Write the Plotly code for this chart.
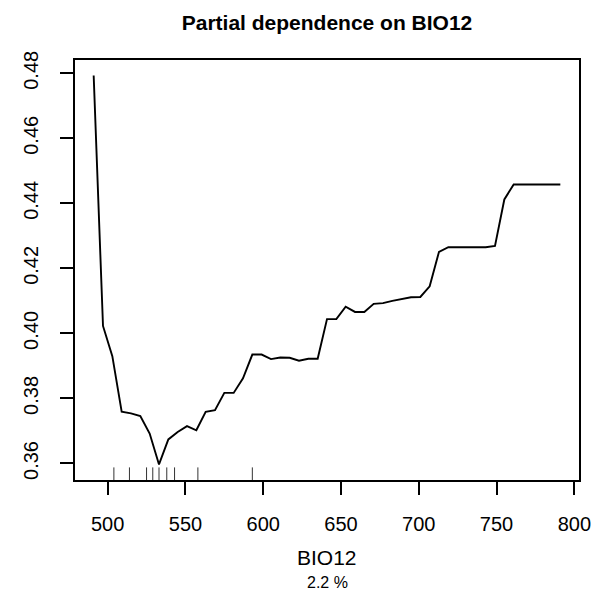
"""Partial dependence plot for BIO12, R base-graphics look."""

import plotly.graph_objects as go

# ── Data ──────────────────────────────────────────────────────────────────────

bio12 = [
    491, 497, 503, 509, 515, 521, 527, 533, 539, 545,
    551, 557, 563, 569, 575, 581, 587, 593, 599, 605,
    611, 617, 623, 629, 635, 641, 647, 653, 659, 665,
    671, 677, 683, 689, 695, 701, 707, 713, 719, 725,
    731, 737, 743, 749, 755, 761, 767, 773, 779, 785,
    791,
]
fitted = [
    0.4793, 0.4023, 0.3930, 0.3759, 0.3754, 0.3746, 0.3692, 0.3597, 0.3674, 0.3697,
    0.3715, 0.3702, 0.3759, 0.3764, 0.3817, 0.3817, 0.3862, 0.3935, 0.3935, 0.3921,
    0.3926, 0.3925, 0.3916, 0.3922, 0.3922, 0.4044, 0.4044, 0.4082, 0.4066, 0.4066,
    0.4091, 0.4093, 0.4100, 0.4105, 0.4111, 0.4112, 0.4145, 0.4251, 0.4265, 0.4265,
    0.4265, 0.4265, 0.4265, 0.4269, 0.4412, 0.4458, 0.4458, 0.4458, 0.4458, 0.4458,
    0.4458,
]
deciles = [504, 514, 525, 529, 533, 538, 543, 558, 593]

x_ticks = [500, 550, 600, 650, 700, 750, 800]
y_ticks = [0.36, 0.38, 0.40, 0.42, 0.44, 0.46, 0.48]

title = "Partial dependence on BIO12"
x_label = "BIO12"
sub_label = "2.2 %"

# ── Theme ─────────────────────────────────────────────────────────────────────

_FONT = "Liberation Sans, Arial, Helvetica, sans-serif"
_INK = "#000000"
_LW = 1.7

# the page body keeps the browser's 8px margin, so the figure is drawn
# 8px smaller and offset to land on the 606x595 window
_BODY = 8
_W, _H = 606 - _BODY, 595 - _BODY


def _padded(lo, hi, frac=0.04):
    """R-style axis range: data range widened by 4% on each side."""
    pad = (hi - lo) * frac
    return [lo - pad, hi + pad]


fig = go.Figure()
fig.add_trace(go.Scatter(
    x=bio12, y=fitted,
    mode="lines",
    line=dict(color=_INK, width=1.9),
    showlegend=False,
    hoverinfo="x+y",
))

# rug of deciles along the bottom of the plot box
for d in deciles:
    fig.add_shape(
        type="line", xref="x", yref="paper",
        x0=d, x1=d, y0=0, y1=0.03,
        line=dict(color="#333333", width=1),
    )

axis_common = dict(
    showline=True, linecolor=_INK, linewidth=_LW, mirror=True,
    ticks="outside", ticklen=13, tickwidth=_LW, tickcolor=_INK,
    showgrid=False, zeroline=False,
    tickfont=dict(family=_FONT, size=20, color=_INK),
)

fig.update_layout(
    width=_W, height=_H,
    paper_bgcolor="white", plot_bgcolor="white",
    margin=dict(l=59 - _BODY, r=27, t=60 - _BODY, b=115),
    font=dict(family=_FONT, color=_INK),
    title=dict(
        text=f"<b>{title}</b>",
        font=dict(family=_FONT, size=21, color=_INK),
        x=0.5, xref="paper", xanchor="center",
        y=1 - (23 - _BODY) / _H, yref="container", yanchor="middle",
    ),
    xaxis=dict(
        range=_padded(min(bio12), max(bio12)),
        tickvals=x_ticks, ticktext=[str(v) for v in x_ticks],
        ticklabelstandoff=12,
        **axis_common,
    ),
    yaxis=dict(
        range=_padded(min(fitted), max(fitted)),
        tickvals=y_ticks, ticktext=[f"{v:.2f}" for v in y_ticks],
        tickangle=-90,
        ticklabelstandoff=14,
        **axis_common,
    ),
    annotations=[
        dict(text=x_label, xref="paper", yref="paper", x=0.5, y=-0.185,
             xanchor="center", yanchor="middle", showarrow=False,
             font=dict(family=_FONT, size=21, color=_INK)),
        dict(text=sub_label, xref="paper", yref="paper", x=0.5, y=-0.245,
             xanchor="center", yanchor="middle", showarrow=False,
             font=dict(family=_FONT, size=16, color=_INK)),
    ],
)

fig.write_html("out.html")
